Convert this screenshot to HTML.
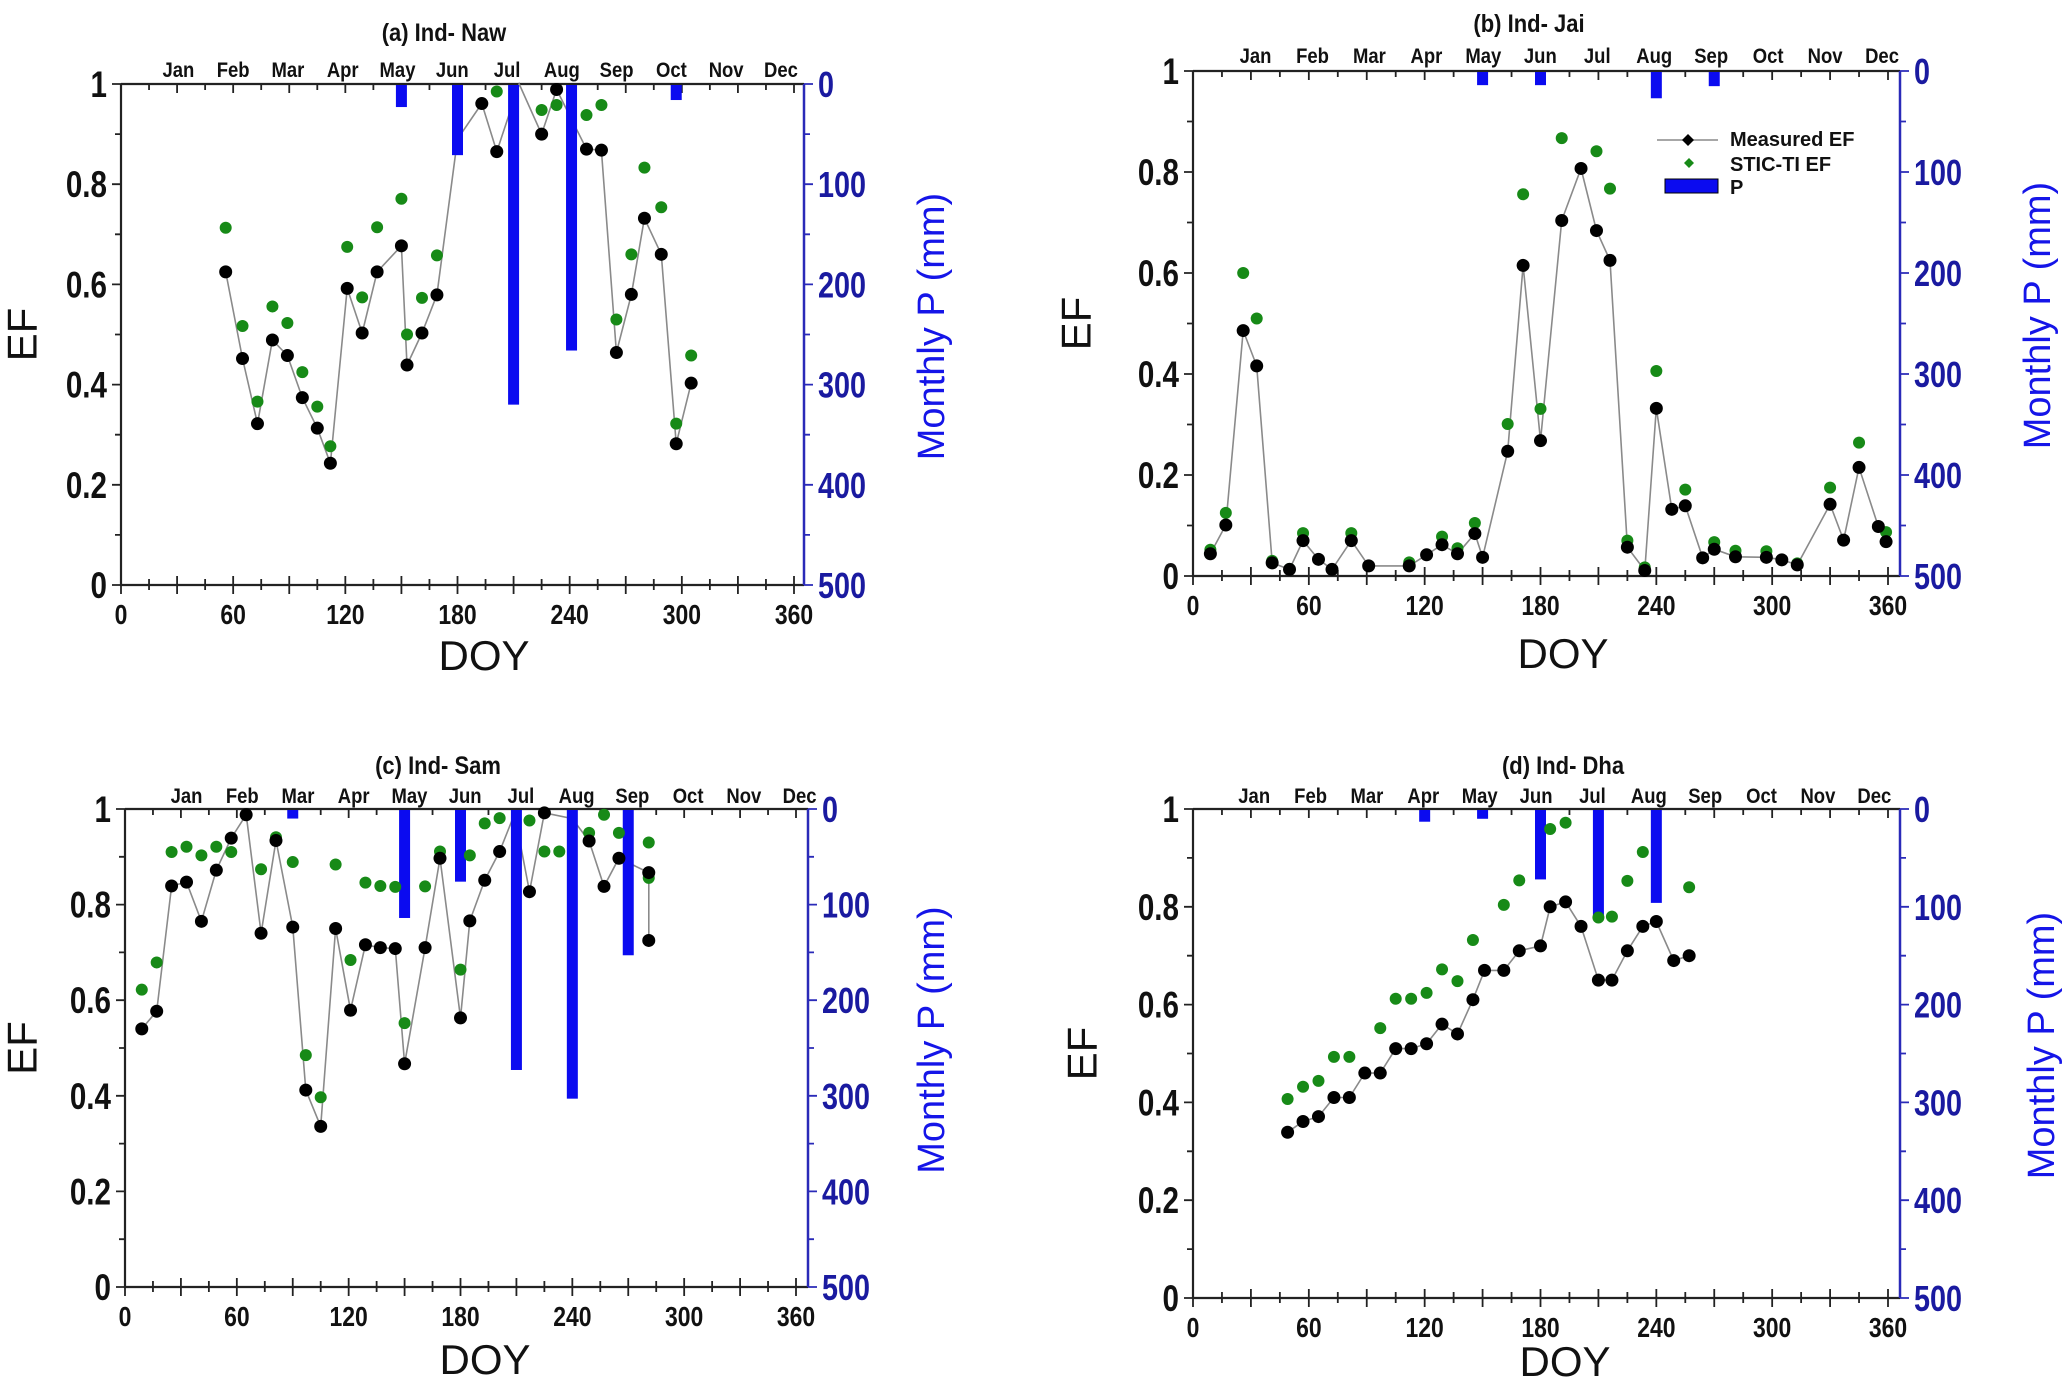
<!DOCTYPE html>
<html><head><meta charset="utf-8"><style>
html,body{margin:0;padding:0;background:#fff;}
svg{display:block;font-family:"Liberation Sans",sans-serif;}
</style></head><body>
<svg id="fig" width="2067" height="1382" viewBox="0 0 2067 1382" xmlns="http://www.w3.org/2000/svg"></svg>
<script>
// ---------- DATA ----------
const monthNames = ["Jan","Feb","Mar","Apr","May","Jun","Jul","Aug","Sep","Oct","Nov","Dec"];
const efTicks = [0,0.2,0.4,0.6,0.8,1];
const efTickLabels = ["0","0.2","0.4","0.6","0.8","1"];
const pTicks = [0,100,200,300,400,500];
const doyTicks = [0,60,120,180,240,300,360];

// (a) Ind- Naw
const nawDoy = [56,65,73,81,89,97,105,112,121,129,137,150,153,161,169,180,193,201,213,225,233,249,257,265,273,280,289,297,305];
const nawMeasured = [0.625,0.452,0.322,0.489,0.458,0.374,0.313,0.243,0.592,0.503,0.625,0.677,0.439,0.503,0.579,0.89,0.961,0.865,1.0,0.90,0.989,0.870,0.868,0.464,0.580,0.732,0.660,0.282,0.403];
const nawSticDoy = [56,65,73,81,89,97,105,112,121,129,137,150,153,161,169,201,225,233,249,257,265,273,280,289,297,305];
const nawStic = [0.713,0.517,0.366,0.556,0.523,0.425,0.356,0.277,0.675,0.574,0.714,0.771,0.50,0.573,0.658,0.985,0.948,0.958,0.938,0.958,0.53,0.66,0.833,0.754,0.322,0.458];
const nawPDoy = [150,180,210,241,297];
const nawP = [23,71,320,266,16];

// (b) Ind- Jai
const jaiDoy = [9,17,26,33,41,50,57,65,72,82,91,112,121,129,137,146,150,163,171,180,191,201,209,216,225,234,240,248,255,264,270,281,297,305,313,330,337,345,355,359];
const jaiMeasured = [0.044,0.101,0.486,0.416,0.026,0.013,0.07,0.033,0.013,0.07,0.02,0.02,0.042,0.062,0.044,0.084,0.037,0.247,0.615,0.268,0.704,0.807,0.684,0.625,0.057,0.011,0.332,0.132,0.139,0.036,0.053,0.038,0.037,0.032,0.022,0.142,0.071,0.215,0.098,0.068];
const jaiSticDoy = [9,17,26,33,41,50,57,82,91,112,129,137,146,163,171,180,191,209,216,225,234,240,255,270,281,297,313,330,345,359];
const jaiStic = [0.052,0.125,0.60,0.51,0.03,0.014,0.085,0.085,0.02,0.027,0.078,0.055,0.105,0.301,0.756,0.331,0.867,0.841,0.767,0.07,0.017,0.406,0.171,0.067,0.05,0.049,0.025,0.175,0.264,0.087];
const jaiPDoy = [150,180,240,270];
const jaiP = [14,14,27,15];

// (c) Ind- Sam
const samDoy = [9,17,25,33,41,49,57,65,73,81,90,97,105,113,121,129,137,145,150,161,169,180,185,193,201,209,217,225,240,249,257,265,281,281];
const samMeasured = [0.540,0.577,0.839,0.847,0.765,0.872,0.939,0.988,0.740,0.934,0.753,0.412,0.336,0.75,0.579,0.716,0.71,0.708,0.467,0.71,0.897,0.563,0.766,0.851,0.911,0.99,0.827,0.992,0.98,0.933,0.838,0.897,0.867,0.725];
const samSticDoy = [9,17,25,33,41,49,57,73,81,90,97,105,113,121,129,137,145,150,161,169,180,185,193,201,217,225,233,249,257,265,281,281];
const samStic = [0.622,0.679,0.91,0.921,0.903,0.921,0.91,0.874,0.941,0.889,0.485,0.397,0.884,0.684,0.846,0.839,0.837,0.552,0.838,0.911,0.664,0.903,0.97,0.981,0.976,0.911,0.911,0.95,0.988,0.95,0.930,0.856];
const samPDoy = [90,150,180,210,240,270];
const samP = [10,114,76,273,303,153];

// (d) Ind- Dha
const dhaDoy = [49,57,65,73,81,89,97,105,113,121,129,137,145,151,161,169,180,185,193,201,210,217,225,233,240,249,257];
const dhaMeasured = [0.339,0.361,0.371,0.41,0.41,0.46,0.46,0.51,0.51,0.52,0.56,0.54,0.61,0.67,0.67,0.71,0.72,0.80,0.81,0.76,0.65,0.65,0.71,0.76,0.77,0.69,0.70];
const dhaSticDoy = [49,57,65,73,81,97,105,113,121,129,137,145,161,169,185,193,210,217,225,233,257];
const dhaStic = [0.407,0.432,0.444,0.493,0.493,0.552,0.612,0.612,0.624,0.672,0.648,0.732,0.804,0.854,0.959,0.972,0.778,0.78,0.853,0.912,0.84];
const dhaPDoy = [120,150,180,210,240];
const dhaP = [13,10,72,111,96];

// ---------- LAYOUT ----------
const panels = [
 {id:"naw", title:"(a) Ind- Naw", L:121, R:804, T:84, B:585, x360:794, titleX:444, titleY:41, monY:77, mon0:30.7, monStep:29.3,
  efX:22, pX:932, doyX:484, doyY:670, doy:nawDoy, meas:nawMeasured, sdoy:nawSticDoy, stic:nawStic, pdoy:nawPDoy, p:nawP},
 {id:"jai", title:"(b) Ind- Jai", L:1193, R:1900, T:71, B:576, x360:1888, titleX:1529, titleY:32, monY:63, mon0:32.4, monStep:29.5,
  efX:1076, pX:2038, doyX:1563, doyY:668, doy:jaiDoy, meas:jaiMeasured, sdoy:jaiSticDoy, stic:jaiStic, pdoy:jaiPDoy, p:jaiP, legend:true},
 {id:"sam", title:"(c) Ind- Sam", L:125, R:808, T:809, B:1287, x360:796, titleX:438, titleY:774, monY:803, mon0:33, monStep:29.9,
  efX:22, pX:932, doyX:485, doyY:1374, doy:samDoy, meas:samMeasured, sdoy:samSticDoy, stic:samStic, pdoy:samPDoy, p:samP},
 {id:"dha", title:"(d) Ind- Dha", L:1193, R:1900, T:809, B:1298, x360:1888, titleX:1563, titleY:774, monY:803, mon0:31.7, monStep:29.2,
  efX:1082, pX:2042, doyX:1565, doyY:1376, doy:dhaDoy, meas:dhaMeasured, sdoy:dhaSticDoy, stic:dhaStic, pdoy:dhaPDoy, p:dhaP}
];

const NS="http://www.w3.org/2000/svg";
const svg=document.getElementById("fig");
function mk(tag, attrs, parent){
  const e=document.createElementNS(NS,tag);
  for(const k in attrs) e.setAttribute(k,attrs[k]);
  (parent||svg).appendChild(e);
  return e;
}
function ctext(parent,x,y,s,size,anchor,fill,sx){
  const t=mk("text",{x:0,y:0,"text-anchor":anchor,"font-size":size,"font-weight":"bold",fill:fill,transform:`translate(${x},${y}) scale(${sx},1)`},parent);
  t.textContent=s;
  return t;
}
const BLUE_AX="#2a2ab8", BLUE_LBL="#1a1aa0", BLUE_BAR="#0b0bf0", GREEN="#178a17";

panels.forEach(pn=>{
  const g=mk("g",{});
  
  
  const xs=d=>pn.L+d*(pn.x360-pn.L)/360;
  const ys=v=>pn.B-v*(pn.B-pn.T);
  const yp=v=>pn.T+v/500*(pn.B-pn.T);

  const t=ctext(g,pn.titleX,pn.titleY,pn.title,25,"middle","#111",0.88);
  
  

  monthNames.forEach((m,i)=>{
    const mt=ctext(g,xs(pn.mon0+i*pn.monStep),pn.monY,m,21,"middle","#111",0.88);
    
    
  });

  // axes lines
  const ax=mk("path",{d:`M${pn.L},${pn.T}V${pn.B}H${pn.R}M${pn.L},${pn.T}H${pn.R}`,stroke:"#222","stroke-width":2.2,fill:"none"},g);
  
  
  const rax=mk("line",{x1:pn.R,y1:pn.T,x2:pn.R,y2:pn.B,stroke:BLUE_AX,"stroke-width":2.5},g);
  
  

  let tk="";
  for(let d=0; d<=360; d+=15){
    const x=xs(d); const major=d%30===0;
    tk+=`M${x},${pn.B-(major?9:6)}V${pn.B+(major?9:5)}`;
    tk+=`M${x},${pn.T}V${pn.T+(major?9:6)}`;
  }
  for(let v=0; v<=1.0001; v+=0.1){
    const y=ys(v); const major=Math.round(v*10)%2===0;
    tk+=`M${pn.L-(major?9:6)},${y}H${pn.L}`;
  }
  const tp=mk("path",{d:tk,stroke:"#222","stroke-width":1.8,fill:"none"},g);
  
  
  let rt="";
  for(let v=0; v<=500; v+=50){ const y=yp(v); rt+=`M${pn.R},${y}H${pn.R+(v%100===0?9:6)}`; }
  const rtp=mk("path",{d:rt,stroke:BLUE_AX,"stroke-width":1.8,fill:"none"},g);
  
  

  doyTicks.forEach(d=>{
    const l=ctext(g,xs(d),pn.B+39,String(d),28,"middle","#111",0.82);
    
    
  });
  efTicks.forEach((v,i)=>{
    const l=ctext(g,pn.L-14,ys(v)+13,efTickLabels[i],37,"end","#111",0.8);
    
    
  });
  pTicks.forEach(v=>{
    const l=ctext(g,pn.R+14,yp(v)+13,String(v),36,"start",BLUE_LBL,0.8);
    
    
  });

  const cy=(pn.T+pn.B)/2;
  const ef=mk("text",{x:pn.efX,y:cy,"text-anchor":"middle","font-size":42,fill:"#111",transform:`rotate(-90 ${pn.efX} ${cy})`,"dominant-baseline":"central"},g);
  ef.textContent="EF";
  
  
  const pt=mk("text",{x:pn.pX,y:cy-8,"text-anchor":"middle","font-size":38,fill:"#1515e8",transform:`rotate(-90 ${pn.pX} ${cy-8})`,"dominant-baseline":"central"},g);
  pt.textContent="Monthly P (mm)";
  
  
  const dx=mk("text",{x:pn.doyX,y:pn.doyY,"text-anchor":"middle","font-size":42,fill:"#111"},g);
  dx.textContent="DOY";
  
  

  const pts=pn.doy.map((d,i)=>`${xs(d).toFixed(1)},${ys(pn.meas[i]).toFixed(1)}`).join(" ");
  const ln=mk("polyline",{points:pts,fill:"none",stroke:"#8a8a8a","stroke-width":1.6},g);
  
  
  pn.pdoy.forEach((d,i)=>{
    const bw=11;
    const b=mk("rect",{x:xs(d)-bw/2,y:pn.T+1,width:bw,height:yp(pn.p[i])-pn.T-1,fill:BLUE_BAR},g);
    
    
  });
  pn.sdoy.forEach((d,i)=>{
    const c=mk("circle",{cx:xs(d),cy:ys(pn.stic[i]),r:6,fill:GREEN},g);
    
    
  });
  pn.doy.forEach((d,i)=>{
    const v=pn.meas[i];
    if(v>=0.975 && (pn.id==="naw"&&d===213 || pn.id==="sam"&&(d===209||d===240))) return;
    if(pn.id==="naw"&&d===180) return;
    const c=mk("circle",{cx:xs(d),cy:ys(v),r:6.5,fill:"#000"},g);
    
    
  });

  if(pn.legend){
    const lg=mk("g",{},g);
    
    
    mk("line",{x1:1657,y1:140,x2:1718,y2:140,stroke:"#8a8a8a","stroke-width":1.6},lg);
    mk("path",{d:"M1688,134L1694,140L1688,146L1682,140Z",fill:"#000"},lg);
    mk("path",{d:"M1689,158L1694,163L1689,168L1684,163Z",fill:GREEN},lg);
    mk("rect",{x:1665,y:179,width:53,height:14,fill:BLUE_BAR,stroke:"#000","stroke-width":1},lg);
    [["Measured EF",146],["STIC-TI EF",171],["P",194]].forEach(([s,y])=>{
      const tt=mk("text",{x:1730,y:y,"font-size":20,"font-weight":"bold",fill:"#111"},lg);
      tt.textContent=s;
      
      
    });
  }
});
</script>
</body></html>
